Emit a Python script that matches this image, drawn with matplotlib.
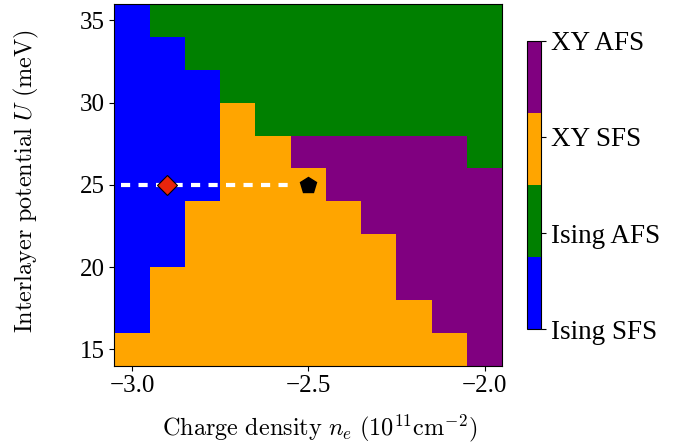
import numpy as np
import matplotlib
matplotlib.use("Agg")
import matplotlib.pyplot as plt
from matplotlib.colors import ListedColormap

plt.rcParams['font.family'] = 'Liberation Serif'
plt.rcParams['mathtext.fontset'] = 'cm'

# Datos del diagrama de fases
densidad = [-3.0, -2.9, -2.8, -2.7, -2.6, -2.5, -2.4, -2.3, -2.2, -2.1, -2.0]
potencial = [15, 17, 19, 21, 23, 25, 27, 29, 31, 33, 35]
fases = ["Ising SFS", "Ising AFS", "XY SFS", "XY AFS"]
colores = ["blue", "green", "orange", "purple"]

# 0 Ising SFS, 1 Ising AFS, 2 XY SFS, 3 XY AFS  (filas de U=15 a U=35)
mapa_fases = [
    [2, 2, 2, 2, 2, 2, 2, 2, 2, 2, 3],  # 15
    [0, 2, 2, 2, 2, 2, 2, 2, 2, 3, 3],  # 17
    [0, 2, 2, 2, 2, 2, 2, 2, 3, 3, 3],  # 19
    [0, 0, 2, 2, 2, 2, 2, 2, 3, 3, 3],  # 21
    [0, 0, 2, 2, 2, 2, 2, 3, 3, 3, 3],  # 23
    [0, 0, 0, 2, 2, 2, 3, 3, 3, 3, 3],  # 25
    [0, 0, 0, 2, 2, 3, 3, 3, 3, 3, 1],  # 27
    [0, 0, 0, 2, 1, 1, 1, 1, 1, 1, 1],  # 29
    [0, 0, 0, 1, 1, 1, 1, 1, 1, 1, 1],  # 31
    [0, 0, 1, 1, 1, 1, 1, 1, 1, 1, 1],  # 33
    [0, 1, 1, 1, 1, 1, 1, 1, 1, 1, 1],  # 35
]

# corte horizontal y los dos puntos marcados
corte_x = [-3.03, -2.55]
corte_y = [25, 25]
punto_rojo = (-2.9, 25)
punto_negro = (-2.5, 25)

fig = plt.figure(figsize=(6.95, 4.45), dpi=100)
ax = fig.add_axes([0.1645, 0.1782, 0.5582, 0.8128])
cax = fig.add_axes([0.758, 0.260, 0.0201, 0.6485])

cmap = ListedColormap(colores)
malla = ax.pcolormesh(densidad, potencial, np.array(mapa_fases), cmap=cmap,
                      vmin=0, vmax=3, shading='nearest')

ax.plot(corte_x, corte_y, color='white', lw=3, dashes=(2.2, 2.0))
ax.plot(*punto_rojo, marker='D', color='#e8250c', markeredgecolor='black',
        markersize=10, markeredgewidth=0.8)
ax.plot(*punto_negro, marker='p', color='black', markersize=12)

ax.set_xticks([-3.0, -2.5, -2.0])
ax.set_yticks([15, 20, 25, 30, 35])
ax.tick_params(labelsize=18)
ax.set_xlabel(r"$\mathrm{Charge\ density}\ n_e\ (10^{11}\mathrm{cm}^{-2})$", fontsize=17.5)
ax.set_ylabel(r"$\mathrm{Interlayer\ potential}\ U\ \mathrm{(meV)}$", fontsize=17.5)
ax.xaxis.set_label_coords(0.53, -0.13)
ax.yaxis.set_label_coords(-0.19, 0.512)

cb = fig.colorbar(malla, cax=cax, ticks=[0, 1, 2, 3])
cb.ax.set_yticklabels(fases)
cb.ax.tick_params(labelsize=19.5)

fig.savefig("out.png", dpi=100)
